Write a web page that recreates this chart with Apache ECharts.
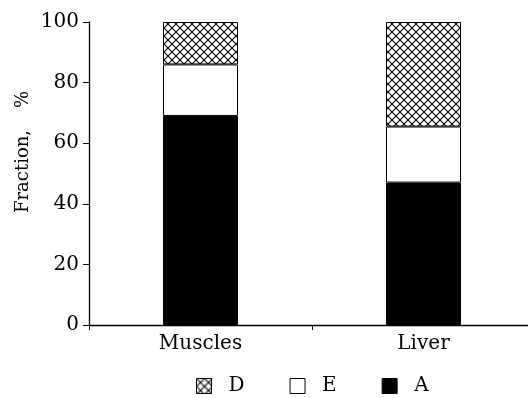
<!DOCTYPE html>
<html><head><meta charset="utf-8">
<script src="https://cdn.jsdelivr.net/npm/echarts@6/dist/echarts.min.js"></script>
<style>html,body{margin:0;padding:0;background:#fff}#c{width:528px;height:398px}</style>
</head><body><div id="c"></div>
<script>
const categories = ['Muscles', 'Liver'];
const seriesA = [69, 47];
const seriesE = [17, 18.5];
const seriesD = [14, 34.5];
const yTicks = [0, 20, 40, 60, 80, 100];

function hatch() {
  const c = document.createElement('canvas');
  c.width = 8; c.height = 8;
  const g = c.getContext('2d');
  g.fillStyle = '#fff'; g.fillRect(0, 0, 8, 8);
  g.strokeStyle = '#000'; g.lineWidth = 1.1;
  g.beginPath();
  g.moveTo(0, 0); g.lineTo(8, 8);
  g.moveTo(8, 0); g.lineTo(0, 8);
  g.stroke();
  return c;
}
const hatchPattern = { image: hatch(), repeat: 'repeat' };
const font = "'DejaVu Serif', 'Liberation Serif', serif";

const chart = echarts.init(document.getElementById('c'), null, { renderer: 'canvas' });
chart.setOption({
  animation: false,
  textStyle: { fontFamily: font, color: '#000' },
  grid: { left: 89, width: 446, top: 22, bottom: 73, containLabel: false, outerBoundsMode: 'none' },
  xAxis: {
    type: 'category', data: categories, boundaryGap: true,
    axisLine: { lineStyle: { color: '#000', width: 1.3 } },
    axisTick: { show: true, length: 5, lineStyle: { color: '#000' } },
    axisLabel: { fontFamily: font, fontSize: 20, color: '#000', margin: 9 }
  },
  yAxis: {
    type: 'value', min: 0, max: 100, interval: 20,
    axisLine: { show: true, lineStyle: { color: '#000', width: 1.3 } },
    axisTick: { show: true, length: 6, lineStyle: { color: '#000' } },
    splitLine: { show: false },
    axisLabel: { fontFamily: font, fontSize: 20, color: '#000', margin: 10,
      formatter: v => yTicks.includes(v) ? String(v) : '' }
  },
  legend: {
    top: 376, left: 196, padding: 0, itemWidth: 15, itemHeight: 15, itemGap: 45,
    textStyle: { fontFamily: font, fontSize: 20, color: '#000', padding: [0, 0, 0, 12] },
    data: [
      { name: 'D', icon: 'rect', itemStyle: { color: hatchPattern, borderColor: '#000', borderWidth: 1 } },
      { name: 'E', icon: 'rect', itemStyle: { color: '#fff', borderColor: '#000', borderWidth: 1 } },
      { name: 'A', icon: 'rect', itemStyle: { color: '#000', borderColor: '#000', borderWidth: 1 } }
    ]
  },
  graphic: [
    { type: 'text', x: 23, y: 213, rotation: Math.PI / 2,
      style: { text: 'Fraction,', fontFamily: font, fontSize: 18, fill: '#000', align: 'left', verticalAlign: 'middle' } },
    { type: 'text', x: 23, y: 108, rotation: Math.PI / 2,
      style: { text: '%', fontFamily: font, fontSize: 18, fill: '#000', align: 'left', verticalAlign: 'middle' } }
  ],
  series: [
    { name: 'A', type: 'bar', stack: 't', data: seriesA, barWidth: 75,
      itemStyle: { color: '#000', borderColor: '#000', borderWidth: 1 } },
    { name: 'E', type: 'bar', stack: 't', data: seriesE, barWidth: 75,
      itemStyle: { color: '#fff', borderColor: '#000', borderWidth: 1 } },
    { name: 'D', type: 'bar', stack: 't', data: seriesD, barWidth: 75,
      itemStyle: { color: hatchPattern, borderColor: '#000', borderWidth: 1 } }
  ]
});
</script></body></html>
